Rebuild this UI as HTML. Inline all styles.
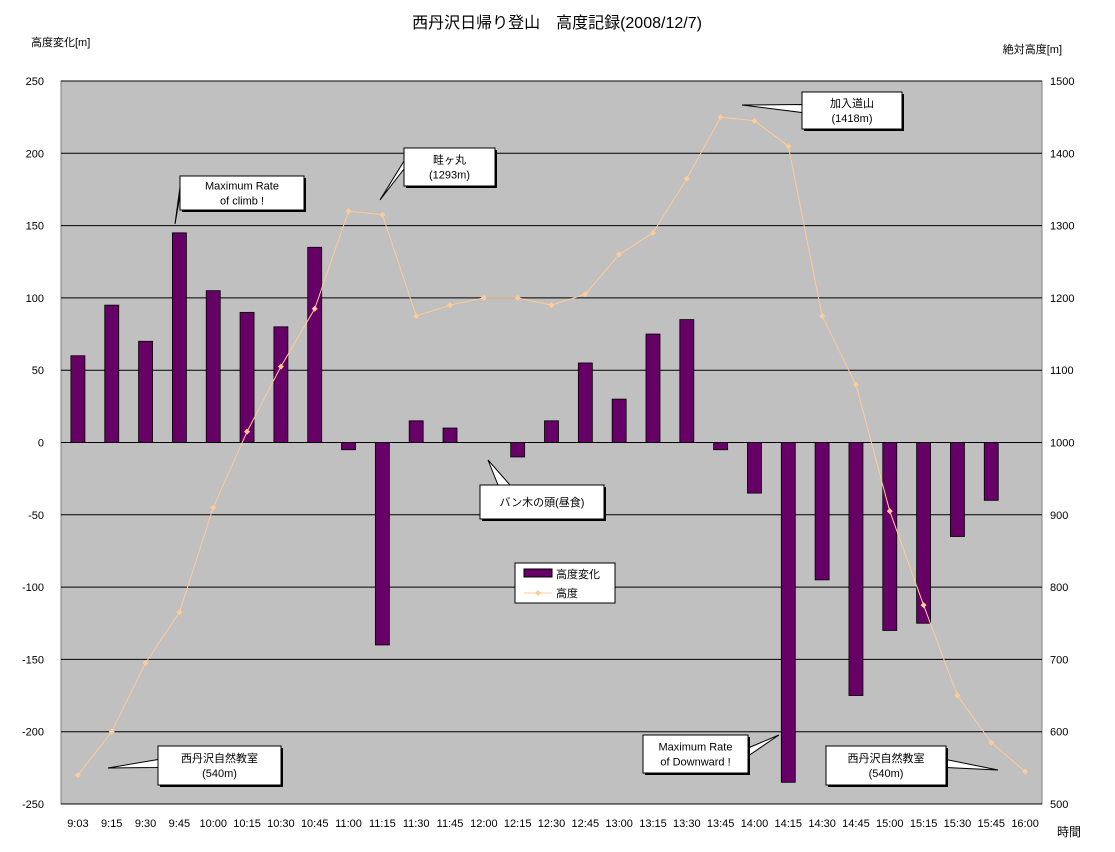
<!DOCTYPE html>
<html><head><meta charset="utf-8"><style>
body{margin:0;background:#fff;width:1115px;height:847px;overflow:hidden}
svg text{font-family:"Liberation Sans","Noto Sans CJK JP",sans-serif;fill:#000}
</style></head><body>
<svg id="c" width="1115" height="847"></svg>
<script>
const categories=["9:03","9:15","9:30","9:45","10:00","10:15","10:30","10:45","11:00","11:15","11:30","11:45","12:00","12:15","12:30","12:45","13:00","13:15","13:30","13:45","14:00","14:15","14:30","14:45","15:00","15:15","15:30","15:45","16:00"];
const changeValues=[60,95,70,145,105,90,80,135,-5,-140,15,10,0,-10,15,55,30,75,85,-5,-35,-235,-95,-175,-130,-125,-65,-40,null];
const altitudeValues=[540,600,695,765,910,1015,1105,1185,1320,1315,1175,1190,1200,1200,1190,1205,1260,1290,1365,1450,1445,1410,1175,1080,905,775,650,585,545];
const leftTicks=[250,200,150,100,50,0,-50,-100,-150,-200,-250];
const rightTicks=[1500,1400,1300,1200,1100,1000,900,800,700,600,500];
const NS="http://www.w3.org/2000/svg";
const svg=document.getElementById('c');
const L=61,R=1042,T=81,B=804;
const yL=v=>T+(250-v)/500*(B-T);
const yR=v=>T+(1500-v)/1000*(B-T);
const bw=(R-L)/categories.length;
const xC=i=>L+bw*(i+0.5);
function el(tag,attrs,text){const e=document.createElementNS(NS,tag);for(const k in attrs)e.setAttribute(k,attrs[k]);if(text!==undefined)e.textContent=text;svg.appendChild(e);return e;}
let e;
e=el('rect',{x:L,y:T,width:R-L,height:B-T,fill:'#c0c0c0',stroke:'#808080'});


leftTicks.forEach((v,i)=>{
 e=el('line',{x1:L,x2:R,y1:yL(v),y2:yL(v),stroke:'#000','stroke-width':1});
 
 
 e=el('text',{x:44,y:yL(v)+4,'text-anchor':'end','font-size':11},v);
 
 
});
rightTicks.forEach(v=>{
 e=el('text',{x:1050,y:yR(v)+4,'font-size':11},v);
 
 
});
categories.forEach((c,i)=>{
 e=el('text',{x:xC(i),y:827,'text-anchor':'middle','font-size':11},c);
 
 
});
changeValues.forEach((v,i)=>{
 if(v===null||v===0)return;
 const y0=yL(0),y1=yL(v);
 e=el('rect',{x:xC(i)-7,y:Math.min(y0,y1),width:14,height:Math.abs(y1-y0),fill:'#660066',stroke:'#000','stroke-width':0.8});
 
 
});
e=el('polyline',{points:altitudeValues.map((v,i)=>xC(i)+','+yR(v)).join(' '),fill:'none',stroke:'#ffcc99','stroke-width':1});


altitudeValues.forEach((v,i)=>{
 const x=xC(i),y=yR(v);
 e=el('polygon',{points:`${x},${y-3} ${x+3},${y} ${x},${y+3} ${x-3},${y}`,fill:'#ffcc99'});
 
 
});
function callout(name,x,y,w,h,px,py,lines){
 e=el('polygon',{points:'',fill:'#fff',stroke:'#000'});
 const cx=x+w/2,cy=y+h/2;
 const ax=px<x?x:(px>x+w?x+w:cx), ay=py<y?y:(py>y+h?y+h:cy);
 let pts;
 if(ax===x||ax===x+w) pts=`${ax},${cy-6} ${px},${py} ${ax},${cy+2}`;
 else pts=`${Math.min(px,x+w-20)+ (px<cx?10:-10)},${ay} ${px},${py} ${Math.min(px,x+w-20)+(px<cx?22:2)},${ay}`;
 e.setAttribute('points',pts);
 
 
 e=el('rect',{x:x+2,y:y+2,width:w,height:h,fill:'#000'});
 
 
 e=el('rect',{x:x,y:y,width:w,height:h,fill:'#fff',stroke:'#000'});
 
 
 lines.forEach((t,k)=>{
  e=el('text',{x:x+w/2,y:y+h/2+(k-(lines.length-1)/2)*15+4,'text-anchor':'middle','font-size':11},t);
  
  
 });
}
callout('max-climb-callout',180,176,124,34,175,224,['Maximum Rate','of climb !']);
callout('azegamaru-callout',404,148,91,38,380,200,['畦ヶ丸','(1293m)']);
callout('kanyudo-callout',802,92,100,37,742,105,['加入道山','(1418m)']);
callout('bangi-callout',480,485,124,34,488,460,['バン木の頭(昼食)']);
callout('start-callout',158,746,123,39,108,768,['西丹沢自然教室','(540m)']);
callout('max-down-callout',643,735,105,38,779,735,['Maximum Rate','of Downward !']);
callout('end-callout',826,746,120,39,998,770,['西丹沢自然教室','(540m)']);
e=el('rect',{x:515,y:563,width:100,height:40,fill:'#fff',stroke:'#000'});


e=el('rect',{x:524,y:569,width:28,height:8,fill:'#660066',stroke:'#000'});


e=el('text',{x:556,y:578,'font-size':11},'高度変化');


e=el('line',{x1:524,x2:552,y1:593,y2:593,stroke:'#ffcc99'});


e=el('polygon',{points:'538,590 541,593 538,596 535,593',fill:'#ffcc99'});


e=el('text',{x:556,y:597,'font-size':11},'高度');


e=el('text',{x:557,y:28,'text-anchor':'middle','font-size':16},'西丹沢日帰り登山　高度記録(2008/12/7)');


e=el('text',{x:31,y:46,'font-size':11},'高度変化[m]');


e=el('text',{x:1062,y:53,'text-anchor':'end','font-size':11},'絶対高度[m]');


e=el('text',{x:1057,y:836,'font-size':12},'時間');


</script>
</body></html>
